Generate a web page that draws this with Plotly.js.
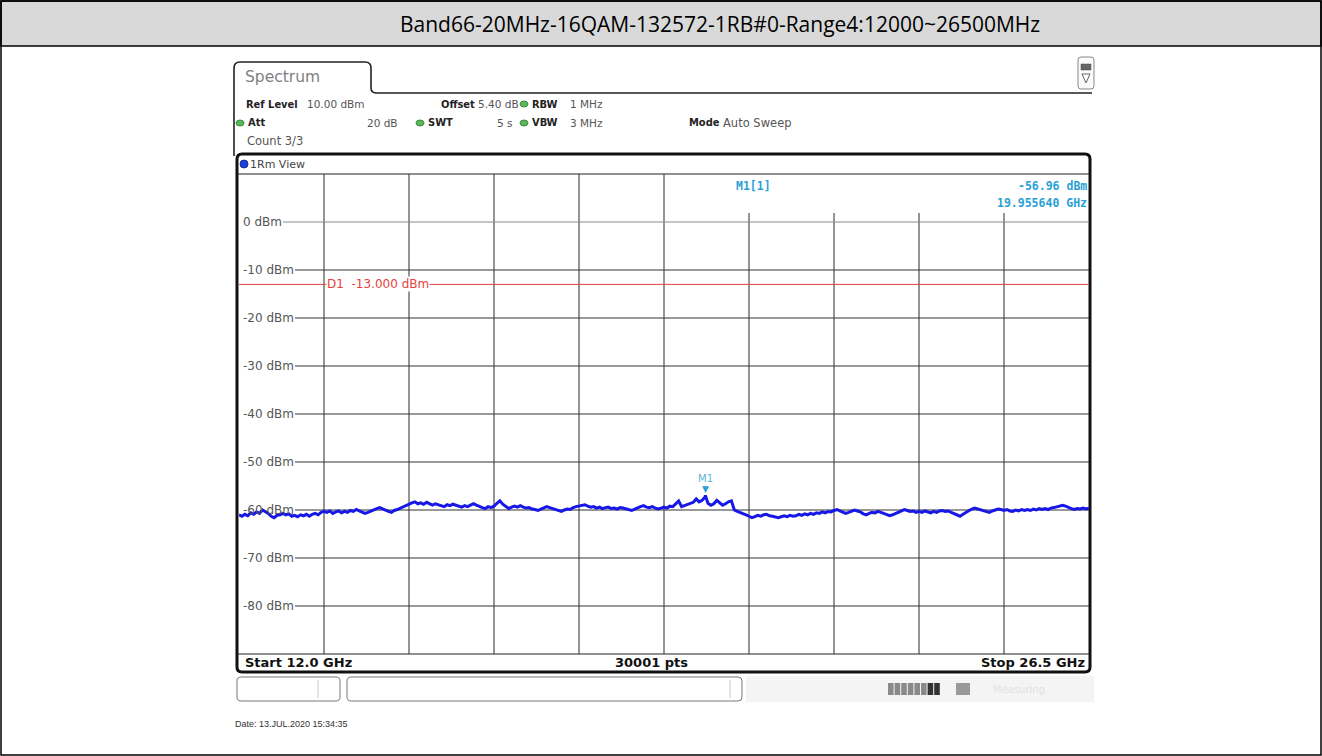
<!DOCTYPE html>
<html><head><meta charset="utf-8">
<script src="https://cdn.plot.ly/plotly-3.0.1.min.js"></script>
<style>html,body{margin:0;padding:0;background:#fff;overflow:hidden}#chart{width:1322px;height:756px;}</style>
</head><body><div id="chart"></div>
<script>
// ---------------- data ----------------
const chartTitle = 'Band66-20MHz-16QAM-132572-1RB#0-Range4:12000~26500MHz';
const startFreq = 12.0, stopFreq = 26.5, sweepStepGHz = 0.05;
const refLevel = 10, bottomLevel = -90;
// trace level (dBm) read every 0.05 GHz from 12.00 to 26.50 GHz
const levelDbm = [
 -61.0,-61.3,-60.9,-61.2,-60.6,-60.9,-60.4,-60.7,-60.0,-60.3,-60.7,-61.3,-61.6,-61.1,-61.0,-60.7,-61.0,-60.8,-61.3,-61.1,
 -61.4,-61.0,-61.2,-60.9,-61.3,-60.9,-60.7,-61.0,-60.5,-60.3,-60.5,-60.2,-60.7,-60.4,-60.2,-60.6,-60.3,-60.5,-60.1,-60.3,
 -59.9,-60.2,-60.5,-60.7,-60.5,-60.2,-60.0,-59.7,-59.5,-59.8,-60.0,-60.3,-60.5,-60.1,-59.9,-59.6,-59.3,-59.1,-58.8,-58.5,
 -58.3,-58.7,-58.5,-58.8,-58.4,-58.7,-59.0,-58.7,-58.9,-59.1,-59.3,-58.9,-59.1,-58.8,-59.0,-59.2,-59.4,-59.1,-59.3,-59.0,
 -58.7,-59.0,-59.3,-59.5,-59.7,-59.3,-59.5,-59.2,-58.6,-58.1,-58.8,-59.2,-59.7,-59.4,-59.2,-59.4,-59.1,-59.4,-59.6,-59.5,
 -59.8,-59.9,-60.1,-59.8,-59.5,-59.3,-59.5,-59.7,-60.0,-60.2,-60.3,-60.0,-59.8,-59.9,-59.5,-59.3,-59.2,-59.0,-58.9,-59.2,
 -59.4,-59.3,-59.6,-59.4,-59.7,-59.5,-59.4,-59.7,-59.6,-59.8,-59.5,-59.6,-59.8,-59.9,-60.1,-59.8,-59.5,-59.3,-59.1,-59.4,
 -59.5,-59.3,-59.6,-59.8,-59.6,-59.4,-59.6,-59.2,-59.3,-58.7,-58.1,-59.3,-59.1,-58.9,-58.7,-58.4,-57.7,-58.3,-58.0,-57.3,
 -58.6,-59.0,-58.7,-58.0,-58.5,-59.0,-58.7,-58.3,-58.1,-60.0,-60.3,-60.5,-60.7,-61.0,-61.3,-61.6,-61.4,-61.1,-61.3,-61.0,
 -60.9,-61.2,-61.3,-61.5,-61.6,-61.4,-61.2,-61.4,-61.1,-61.3,-61.2,-60.9,-61.1,-60.8,-61.0,-60.7,-60.9,-60.6,-60.7,-60.4,
 -60.6,-60.3,-60.4,-60.1,-59.9,-60.2,-60.5,-60.7,-60.5,-60.2,-60.0,-60.2,-60.4,-60.8,-61.0,-60.7,-60.5,-60.6,-60.3,-60.5,
 -60.7,-60.9,-61.2,-61.0,-60.7,-60.4,-60.1,-59.9,-60.1,-60.3,-60.2,-60.5,-60.3,-60.5,-60.2,-60.4,-60.6,-60.3,-60.5,-60.2,
 -60.1,-60.3,-60.2,-60.5,-60.8,-61.1,-61.3,-60.9,-60.5,-60.1,-59.8,-59.6,-59.8,-60.0,-60.2,-60.4,-60.5,-60.2,-60.0,-59.8,
 -59.9,-60.1,-59.9,-60.2,-60.3,-60.0,-60.2,-59.9,-60.1,-59.9,-60.1,-59.8,-60.0,-59.7,-59.9,-59.7,-59.9,-59.6,-59.5,-59.3,
 -59.1,-59.0,-59.2,-59.5,-59.7,-59.9,-59.7,-59.8,-59.6,-59.8,-59.6
];
const yTickValues = [0,-10,-20,-30,-40,-50,-60,-70,-80];
const yTickLabels = ['0 dBm','-10 dBm','-20 dBm','-30 dBm','-40 dBm','-50 dBm','-60 dBm','-70 dBm','-80 dBm'];
const xDivisions = 10;
const markerName = 'M1';
const markerFreq = 19.955640;
const markerLevel = -56.96;
const limitLevel = -13;
const limitLabel = 'D1  -13.000 dBm';
const startLabel = 'Start 12.0 GHz', stopLabel = 'Stop 26.5 GHz', ptsLabel = '30001 pts';
const dateLabel = 'Date: 13.JUL.2020 15:34:35';

// sweep frequency grid + marker point merged into the trace
const freqGHz = [], traceLevel = [];
levelDbm.forEach((v, i) => {
  const f = +(startFreq + i * sweepStepGHz).toFixed(4);
  if (freqGHz.length && freqGHz[freqGHz.length - 1] < markerFreq && f > markerFreq) {
    freqGHz.push(markerFreq); traceLevel.push(markerLevel);
  }
  freqGHz.push(f); traceLevel.push(v);
});

// ---------------- geometry helpers ----------------
const W = 1322, H = 756;
const X = p => p / W, Y = p => 1 - p / H;
const plotL = 239, plotR = 1089, plotT = 174, plotB = 654;
const fmt = v => v.toFixed(5);
function pt(x, y) { return fmt(X(x)) + ',' + fmt(Y(y)); }
function rrect(x0, y0, x1, y1, r) {
  return 'M' + pt(x0 + r, y0) + ' L' + pt(x1 - r, y0) + ' Q' + pt(x1, y0) + ' ' + pt(x1, y0 + r) +
    ' L' + pt(x1, y1 - r) + ' Q' + pt(x1, y1) + ' ' + pt(x1 - r, y1) +
    ' L' + pt(x0 + r, y1) + ' Q' + pt(x0, y1) + ' ' + pt(x0, y1 - r) +
    ' L' + pt(x0, y0 + r) + ' Q' + pt(x0, y0) + ' ' + pt(x0 + r, y0) + ' Z';
}
const shapes = [];
const anns = [];
function rect(x0, y0, x1, y1, fill, lc, lw, layer) {
  shapes.push({type: 'rect', xref: 'paper', yref: 'paper', x0: X(x0), x1: X(x1), y0: Y(y1), y1: Y(y0),
    fillcolor: fill || 'rgba(0,0,0,0)', line: {color: lc || 'rgba(0,0,0,0)', width: lw || 0}, layer: layer || 'below'});
}
function pline(x0, y0, x1, y1, color, width, layer) {
  shapes.push({type: 'line', xref: 'paper', yref: 'paper', x0: X(x0), x1: X(x1), y0: Y(y0), y1: Y(y1),
    line: {color: color, width: width}, layer: layer || 'below'});
}
function path(d, color, width, fill, layer) {
  shapes.push({type: 'path', xref: 'paper', yref: 'paper', path: d,
    line: {color: color, width: width}, fillcolor: fill || 'rgba(0,0,0,0)', layer: layer || 'below'});
}
function dot(cx, cy, rx, ry, fill, lc) {
  shapes.push({type: 'circle', xref: 'paper', yref: 'paper', x0: X(cx - rx), x1: X(cx + rx), y0: Y(cy + ry), y1: Y(cy - ry),
    fillcolor: fill, line: {color: lc || fill, width: 1}, layer: 'above'});
}
function txt(s, x, y, o) {
  o = o || {};
  anns.push({text: s, xref: 'paper', yref: 'paper', x: X(x), y: Y(y), showarrow: false,
    xanchor: o.xa || 'left', yanchor: o.ya || 'middle',
    font: {family: o.family || 'DejaVu Sans', size: o.size || 11, color: o.color || '#444'},
    bgcolor: o.bg || 'rgba(0,0,0,0)', borderpad: 0});
}

// ---------------- outer frame ----------------
rect(1, 1, 1321, 46, '#d9d9d9', '#000', 1.5);
rect(1, 1, 1321, 755, 'rgba(0,0,0,0)', '#000', 1.5);
txt(chartTitle, 720, 24, {xa: 'center', family: 'Open Sans', size: 21, color: '#000'});

// ---------------- instrument tab ----------------
path('M' + pt(234, 156) + ' L' + pt(234, 68) + ' Q' + pt(234, 62) + ' ' + pt(240, 62) +
  ' L' + pt(365, 62) + ' Q' + pt(371, 62) + ' ' + pt(371, 68) + ' L' + pt(371, 88) +
  ' Q' + pt(371, 93) + ' ' + pt(377, 93) + ' L' + pt(1092, 93), '#222', 1.6);
txt('Spectrum', 244, 77, {size: 15.5, color: '#808080'});
// icon top right
path(rrect(1078, 57, 1094, 89, 3), '#888', 1, '#fbfbfb');
rect(1081, 64, 1091, 70, '#666', '#444', 0.5, 'above');
path('M' + pt(1082, 74) + ' L' + pt(1090, 74) + ' L' + pt(1086, 83) + ' Z', '#666', 1, '#fff', 'above');

// info lines
const infoY1 = 104, infoY2 = 123, infoY3 = 141;
const B = {family: 'DejaVu Sans Condensed', size: 11, color: '#222'};
const R = {size: 10.5, color: '#555'};
txt('<b>Ref Level</b>', 245, infoY1, B);
txt('10.00 dBm', 306, infoY1, R);
txt('<b>Offset</b>', 440, infoY1, B);
txt('5.40 dB', 477, infoY1, R);
dot(524, infoY1, 4, 3, '#5cb85c', '#3d8b3d');
txt('<b>RBW</b>', 531, infoY1, B);
txt('1 MHz', 569, infoY1, R);
dot(240, infoY2, 4, 3, '#5cb85c', '#3d8b3d');
txt('<b>Att</b>', 247, infoY2, B);
txt('20 dB', 399, infoY2, Object.assign({xa: 'right'}, R));
dot(420, infoY2, 4, 3, '#5cb85c', '#3d8b3d');
txt('<b>SWT</b>', 427, infoY2, B);
txt('5 s', 514, infoY2, Object.assign({xa: 'right'}, R));
dot(524, infoY2, 4, 3, '#5cb85c', '#3d8b3d');
txt('<b>VBW</b>', 531, infoY2, B);
txt('3 MHz', 569, infoY2, R);
txt('<b>Mode</b>', 688, infoY2, B);
txt('Auto Sweep', 722, infoY2, Object.assign({}, R, {size: 11.5}));
txt('Count 3/3', 246, infoY3, Object.assign({}, R, {size: 11.5}));

// ---------------- diagram frame ----------------
path(rrect(237, 154, 1090, 672, 5), '#111', 3, '#fff');
pline(238, plotT, 1090, plotT, '#222', 1.2);
pline(238, plotB, 1090, plotB, '#222', 1.2);
dot(244, 164, 4, 4, '#1f3fd8', '#1030a0');
txt('1Rm View', 249, 164, {size: 11, color: '#444'});

// vertical grid lines
const step = (stopFreq - startFreq) / xDivisions;
for (let k = 1; k < xDivisions; k++) {
  const f = startFreq + k * step;
  const xpx = plotL + (plotR - plotL) * k / xDivisions;
  const topPx = xpx > 700 ? 213 : plotT;
  shapes.push({type: 'line', xref: 'x', yref: 'paper', x0: f, x1: f, y0: Y(plotB), y1: Y(topPx),
    line: {color: '#2a2a2a', width: 1}, layer: 'below'});
}
// horizontal grid lines with labels (line begins after the label)
const cv = document.createElement('canvas').getContext('2d');
cv.font = '12px "DejaVu Sans"';
yTickValues.forEach((v, i) => {
  const w = cv.measureText(yTickLabels[i]).width;
  const x0px = 241 + w + 3;
  shapes.push({type: 'line', xref: 'paper', yref: 'y', x0: X(x0px), x1: X(plotR), y0: v, y1: v,
    line: {color: i === 0 ? '#8a8a8a' : '#333', width: 1}, layer: 'below'});
  anns.push({text: yTickLabels[i], xref: 'paper', yref: 'y', x: X(241), y: v, showarrow: false,
    xanchor: 'left', yanchor: 'middle', font: {family: 'DejaVu Sans', size: 12, color: '#555'}});
});
// limit line D1
shapes.push({type: 'line', xref: 'paper', yref: 'y', x0: X(plotL), x1: X(plotR), y0: limitLevel, y1: limitLevel,
  line: {color: '#e8413c', width: 1}, layer: 'below'});
anns.push({text: limitLabel, xref: 'paper', yref: 'y', x: X(326), y: limitLevel, showarrow: false,
  xanchor: 'left', yanchor: 'middle', bgcolor: '#fff', borderpad: 0,
  font: {family: 'DejaVu Sans', size: 12, color: '#e8413c'}});

// marker info box
const mk = '#2a9fd6';
txt('<b>M1[1]</b>', 735, 186, {family: 'DejaVu Sans Mono', size: 11.5, color: mk});
txt('<b>' + markerLevel.toFixed(2) + ' dBm</b>', 1088, 186, {xa: 'right', family: 'DejaVu Sans Mono', size: 11.5, color: mk});
txt('<b>' + markerFreq.toFixed(6) + ' GHz</b>', 1088, 203, {xa: 'right', family: 'DejaVu Sans Mono', size: 11.5, color: mk});
// marker symbol on the trace
anns.push({text: '▼', xref: 'x', yref: 'y', x: markerFreq, y: markerLevel, showarrow: false,
  xanchor: 'center', yanchor: 'bottom', yshift: -1, font: {family: 'DejaVu Sans', size: 9, color: mk}});
anns.push({text: markerName, xref: 'x', yref: 'y', x: markerFreq, y: markerLevel, showarrow: false,
  xanchor: 'center', yanchor: 'bottom', yshift: 9, font: {family: 'DejaVu Sans', size: 10, color: '#5ab4dc'}});

// bottom bar
const BB = {family: 'DejaVu Sans', size: 13, color: '#111'};
txt('<b>' + startLabel + '</b>', 244, 662, BB);
txt('<b>' + ptsLabel + '</b>', 651, 662, Object.assign({xa: 'center'}, BB));
txt('<b>' + stopLabel + '</b>', 1086, 662, Object.assign({xa: 'right'}, BB));

// status boxes
path(rrect(237, 677, 340, 701, 4), '#777', 1, '#fff');
pline(318, 680, 318, 698, '#ccc', 1);
path(rrect(347, 677, 742, 701, 4), '#777', 1, '#fff');
pline(730, 680, 730, 698, '#ccc', 1);
rect(746, 676, 1094, 702, '#f4f4f4', 'rgba(0,0,0,0)', 0);
txt('Measuring', 992, 689, {size: 10, color: '#e2e2e2'});
for (let i = 0; i < 8; i++) {
  rect(888 + i * 6.6, 683, 888 + i * 6.6 + 5.6, 695, i < 6 ? '#8a8a8a' : '#333', 'rgba(0,0,0,0)', 0, 'above');
}
rect(956, 683, 970, 695, '#999', 'rgba(0,0,0,0)', 0, 'above');
txt(dateLabel, 234, 724, {family: 'Liberation Sans', size: 9, color: '#333'});

// ---------------- plot ----------------
const traces = [{
  x: freqGHz, y: traceLevel, type: 'scatter', mode: 'lines',
  line: {color: '#1717e8', width: 3}, hoverinfo: 'skip', showlegend: false
}];
const layout = {
  width: W, height: H, margin: {l: 0, r: 0, t: 0, b: 0},
  paper_bgcolor: '#fff', plot_bgcolor: 'rgba(0,0,0,0)', showlegend: false,
  xaxis: {domain: [X(plotL), X(plotR)], range: [startFreq, stopFreq], showgrid: false, zeroline: false,
    showticklabels: false, ticks: '', showline: false, fixedrange: true},
  yaxis: {domain: [Y(plotB), Y(plotT)], range: [bottomLevel, refLevel], showgrid: false, zeroline: false,
    showticklabels: false, ticks: '', showline: false, fixedrange: true},
  shapes: shapes, annotations: anns
};
Plotly.newPlot('chart', traces, layout, {staticPlot: true, displayModeBar: false});
</script></body></html>
